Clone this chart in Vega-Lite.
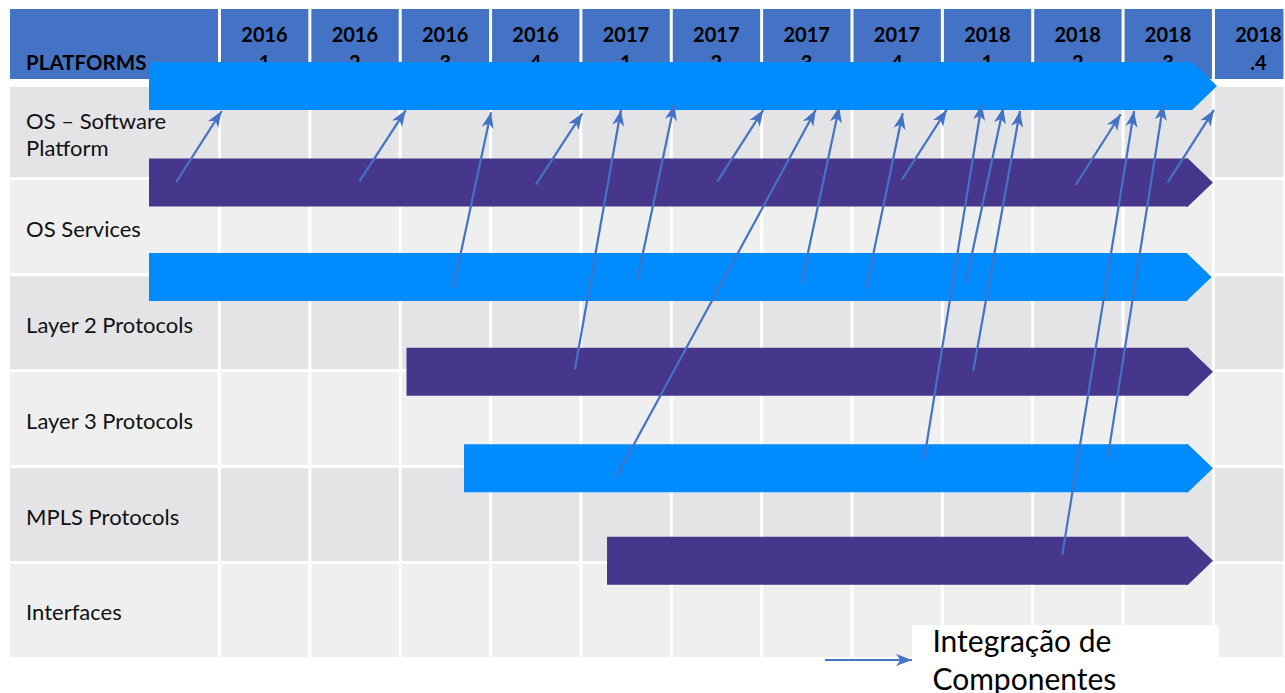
{
  "$schema": "https://vega.github.io/schema/vega-lite/v6.json",
  "width": 1285,
  "height": 693,
  "autosize": {"type": "none"},
  "padding": 0,
  "background": "white",
  "config": {"view": {"stroke": null}, "font": "Lato"},
  "resolve": {"scale": {"color": "independent"}},
  "datasets": {
    "rows": [
      {"label": "", "shade": "header", "top": -0.785, "bottom": -0.024},
      {"label": "OS – Software\nPlatform", "shade": "dark", "top": 0.028, "bottom": 1},
      {"label": "OS Services", "shade": "light", "top": 1, "bottom": 2},
      {"label": "Layer 2 Protocols", "shade": "dark", "top": 2, "bottom": 3},
      {"label": "Layer 3 Protocols", "shade": "light", "top": 3, "bottom": 4},
      {"label": "MPLS Protocols", "shade": "dark", "top": 4, "bottom": 5},
      {"label": "Interfaces", "shade": "light", "top": 5, "bottom": 6}
    ],
    "quarters": [
      {"q": 0, "label": "2016\n1"},
      {"q": 1, "label": "2016\n2"},
      {"q": 2, "label": "2016\n3"},
      {"q": 3, "label": "2016\n4"},
      {"q": 4, "label": "2017\n1"},
      {"q": 5, "label": "2017\n2"},
      {"q": 6, "label": "2017\n3"},
      {"q": 7, "label": "2017\n4"},
      {"q": 8, "label": "2018\n1"},
      {"q": 9, "label": "2018\n2"},
      {"q": 10, "label": "2018\n3"},
      {"q": 11, "label": "2018\n.4"}
    ],
    "bars": [
      {"stream": "OS – Software Platform", "start": -0.78, "end": 11.04, "lane": 0.033, "tone": "blue"},
      {"stream": "OS Services", "start": -0.78, "end": 10.995, "lane": 1.039, "tone": "purple"},
      {"stream": "Layer 2 Protocols", "start": -0.78, "end": 10.98, "lane": 2.024, "tone": "blue"},
      {"stream": "Layer 3 Protocols", "start": 2.07, "end": 10.995, "lane": 3.011, "tone": "purple"},
      {"stream": "MPLS Protocols", "start": 2.706, "end": 10.995, "lane": 4.017, "tone": "blue"},
      {"stream": "Interfaces", "start": 4.289, "end": 10.995, "lane": 4.982, "tone": "purple"}
    ],
    "links": [
      {"id": "A", "x0": -0.481, "y0": 1.037, "x1": 0.024, "y1": 0.294},
      {"id": "B", "x0": 1.547, "y0": 1.031, "x1": 2.061, "y1": 0.287},
      {"id": "C", "x0": 2.587, "y0": 2.142, "x1": 3.005, "y1": 0.307},
      {"id": "D", "x0": 3.503, "y0": 1.058, "x1": 4.015, "y1": 0.318},
      {"id": "E", "x0": 3.934, "y0": 2.986, "x1": 4.443, "y1": 0.283},
      {"id": "F", "x0": 4.624, "y0": 2.055, "x1": 5.033, "y1": 0.224},
      {"id": "G", "x0": 4.396, "y0": 4.098, "x1": 6.598, "y1": 0.283},
      {"id": "H", "x0": 5.509, "y0": 1.031, "x1": 6.018, "y1": 0.283},
      {"id": "I", "x0": 6.443, "y0": 2.079, "x1": 6.859, "y1": 0.249},
      {"id": "J", "x0": 7.155, "y0": 2.149, "x1": 7.561, "y1": 0.318},
      {"id": "K", "x0": 7.55, "y0": 1.013, "x1": 8.048, "y1": 0.283},
      {"id": "L", "x0": 7.8, "y0": 3.913, "x1": 8.435, "y1": 0.224},
      {"id": "M", "x0": 8.261, "y0": 2.079, "x1": 8.674, "y1": 0.26},
      {"id": "N", "x0": 8.342, "y0": 3.004, "x1": 8.859, "y1": 0.294},
      {"id": "O", "x0": 9.475, "y0": 1.065, "x1": 9.973, "y1": 0.328},
      {"id": "P", "x0": 9.327, "y0": 4.921, "x1": 10.121, "y1": 0.294},
      {"id": "Q", "x0": 9.83, "y0": 3.907, "x1": 10.445, "y1": 0.224},
      {"id": "R", "x0": 10.494, "y0": 1.037, "x1": 11.006, "y1": 0.283},
      {"id": "legend", "x0": 6.701, "y0": 6.016, "x1": 7.664, "y1": 6.016}
    ]
  },
  "layer": [
    {
      "data": {"name": "rows"},
      "mark": {"type": "rect", "stroke": "white", "strokeWidth": 3},
      "encoding": {
        "x": {"datum": -2.335, "type": "quantitative", "axis": null, "scale": {"domain": [-2.429, 11.792], "nice": false, "zero": false}},
        "x2": {"datum": 11.792},
        "y": {"field": "top", "type": "quantitative", "axis": null, "scale": {"domain": [-0.863, 6.36], "nice": false, "zero": false, "reverse": true}},
        "y2": {"field": "bottom"},
        "color": {"field": "shade", "type": "nominal", "legend": null, "scale": {"domain": ["header", "dark", "light"], "range": ["#4472C4", "#E4E4E6", "#EFEFF0"]}}
      }
    },
    {
      "data": {"name": "quarters"},
      "mark": {"type": "rule", "color": "white", "strokeWidth": 3},
      "encoding": {
        "x": {"field": "q", "type": "quantitative", "axis": null, "scale": {"domain": [-2.429, 11.792], "nice": false, "zero": false}},
        "y": {"datum": -0.8, "type": "quantitative", "axis": null, "scale": {"domain": [-0.863, 6.36], "nice": false, "zero": false, "reverse": true}},
        "y2": {"datum": 5.99}
      }
    },
    {
      "data": {"name": "quarters"},
      "mark": {"type": "text", "font": "Lato", "fontSize": 20, "fontWeight": "bold", "color": "#000000", "align": "center", "baseline": "middle", "dx": 45, "dy": -8, "lineBreak": "\n", "lineHeight": 28},
      "encoding": {
        "x": {"field": "q", "type": "quantitative", "axis": null, "scale": {"domain": [-2.429, 11.792], "nice": false, "zero": false}},
        "y": {"datum": -0.404, "type": "quantitative", "axis": null, "scale": {"domain": [-0.863, 6.36], "nice": false, "zero": false, "reverse": true}},
        "text": {"field": "label"}
      }
    },
    {
      "data": {"values": [{"title": "PLATFORMS"}]},
      "mark": {"type": "text", "font": "Lato", "fontSize": 20.5, "fontWeight": "bold", "color": "#000000", "align": "left", "baseline": "alphabetic"},
      "encoding": {
        "x": {"datum": -2.14, "type": "quantitative", "axis": null, "scale": {"domain": [-2.429, 11.792], "nice": false, "zero": false}},
        "y": {"datum": -0.133, "type": "quantitative", "axis": null, "scale": {"domain": [-0.863, 6.36], "nice": false, "zero": false, "reverse": true}},
        "text": {"field": "title"}
      }
    },
    {
      "data": {"name": "rows"},
      "transform": [
        {"filter": "datum.label != ''"},
        {"calculate": "(datum.top + datum.bottom) / 2 - (split(datum.label, '\\n').length - 1) * 0.1407", "as": "mid"}
      ],
      "mark": {"type": "text", "font": "Lato", "fontSize": 22, "color": "#111111", "align": "left", "baseline": "middle", "dy": 3, "lineBreak": "\n", "lineHeight": 27},
      "encoding": {
        "x": {"datum": -2.14, "type": "quantitative", "axis": null, "scale": {"domain": [-2.429, 11.792], "nice": false, "zero": false}},
        "y": {"field": "mid", "type": "quantitative", "axis": null, "scale": {"domain": [-0.863, 6.36], "nice": false, "zero": false, "reverse": true}},
        "text": {"field": "label"}
      }
    },
    {
      "data": {"values": [{"box": "legend"}]},
      "mark": {"type": "rect", "color": "white"},
      "encoding": {
        "x": {"datum": 7.664, "type": "quantitative", "axis": null, "scale": {"domain": [-2.429, 11.792], "nice": false, "zero": false}},
        "x2": {"datum": 11.06},
        "y": {"datum": 5.651, "type": "quantitative", "axis": null, "scale": {"domain": [-0.863, 6.36], "nice": false, "zero": false, "reverse": true}},
        "y2": {"datum": 6.36}
      }
    },
    {
      "data": {"name": "bars"},
      "mark": {"type": "rule", "strokeWidth": 48, "strokeCap": "butt", "x2Offset": -25},
      "encoding": {
        "x": {"field": "start", "type": "quantitative", "axis": null, "scale": {"domain": [-2.429, 11.792], "nice": false, "zero": false}},
        "x2": {"field": "end"},
        "y": {"field": "lane", "type": "quantitative", "axis": null, "scale": {"domain": [-0.863, 6.36], "nice": false, "zero": false, "reverse": true}},
        "color": {"field": "tone", "type": "nominal", "legend": null, "scale": {"domain": ["blue", "purple"], "range": ["#008CFF", "#46368C"]}}
      }
    },
    {
      "data": {"name": "bars"},
      "mark": {"type": "point", "shape": "M0,0 L-1.042,-1 L-1.12,-1 L-1.12,1 L-1.042,1 Z", "size": 2304, "filled": true, "opacity": 1, "strokeWidth": 0},
      "encoding": {
        "x": {"field": "end", "type": "quantitative", "axis": null, "scale": {"domain": [-2.429, 11.792], "nice": false, "zero": false}},
        "y": {"field": "lane", "type": "quantitative", "axis": null, "scale": {"domain": [-0.863, 6.36], "nice": false, "zero": false, "reverse": true}},
        "color": {"field": "tone", "type": "nominal", "legend": null, "scale": {"domain": ["blue", "purple"], "range": ["#008CFF", "#46368C"]}}
      }
    },
    {
      "data": {"name": "links"},
      "mark": {"type": "rule", "color": "#4472C4", "strokeWidth": 2.2},
      "encoding": {
        "x": {"field": "x0", "type": "quantitative", "axis": null, "scale": {"domain": [-2.429, 11.792], "nice": false, "zero": false}},
        "x2": {"field": "x1"},
        "y": {"field": "y0", "type": "quantitative", "axis": null, "scale": {"domain": [-0.863, 6.36], "nice": false, "zero": false, "reverse": true}},
        "y2": {"field": "y1"}
      }
    },
    {
      "data": {"name": "links"},
      "transform": [
        {"calculate": "atan2((datum.x1 - datum.x0) * 90.36, (datum.y0 - datum.y1) * 95.95) * 180 / PI", "as": "heading"}
      ],
      "mark": {"type": "point", "shape": "M0,0 L0.55,1.45 L0,1.05 L-0.55,1.45 Z", "size": 484, "filled": true, "opacity": 1, "strokeWidth": 0, "color": "#4472C4"},
      "encoding": {
        "x": {"field": "x1", "type": "quantitative", "axis": null, "scale": {"domain": [-2.429, 11.792], "nice": false, "zero": false}},
        "y": {"field": "y1", "type": "quantitative", "axis": null, "scale": {"domain": [-0.863, 6.36], "nice": false, "zero": false, "reverse": true}},
        "angle": {"field": "heading", "type": "quantitative", "scale": null}
      }
    },
    {
      "data": {"values": [{"note": "Integração de\nComponentes"}]},
      "mark": {"type": "text", "font": "Lato", "fontSize": 30, "color": "#000000", "align": "left", "baseline": "alphabetic", "lineBreak": "\n", "lineHeight": 38},
      "encoding": {
        "x": {"datum": 7.89, "type": "quantitative", "axis": null, "scale": {"domain": [-2.429, 11.792], "nice": false, "zero": false}},
        "y": {"datum": 5.935, "type": "quantitative", "axis": null, "scale": {"domain": [-0.863, 6.36], "nice": false, "zero": false, "reverse": true}},
        "text": {"field": "note"}
      }
    }
  ]
}
